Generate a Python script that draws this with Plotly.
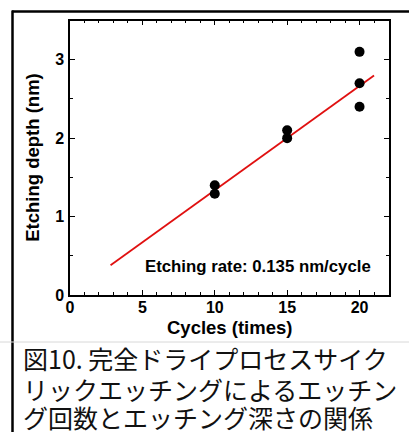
import plotly.graph_objects as go

# Data
cycles = [10, 10, 15, 15, 20, 20, 20]
depth = [1.40, 1.29, 2.10, 2.00, 3.10, 2.70, 2.40]
fit_x = [2.8, 21.0]
fit_y = [0.38, 2.80]
x_ticks = [0, 5, 10, 15, 20]
y_ticks = [0, 1, 2, 3]
rate_label = "Etching rate: 0.135 nm/cycle"
x_title = "Cycles (times)"
y_title = "Etching depth (nm)"
caption_lines = ["図10. 完全ドライプロセスサイク",
                 "リックエッチングによるエッチン",
                 "グ回数とエッチング深さの関係"]

W, H = 409, 432
font_fam = "Liberation Sans, Arial, sans-serif"

fig = go.Figure()
fig.add_trace(go.Scatter(x=fit_x, y=fit_y, mode="lines",
                         line=dict(color="#e01010", width=1.8),
                         showlegend=False, hoverinfo="skip"))
fig.add_trace(go.Scatter(x=cycles, y=depth, mode="markers",
                         marker=dict(color="black", size=10),
                         showlegend=False))

x0, x1 = 70, 388.5
y0, y1 = 20.5, 295

axis_common = dict(
    showgrid=False, zeroline=False, showline=True, linecolor="black",
    linewidth=1.5, mirror="allticks", ticks="inside", ticklen=5,
    tickwidth=1.3, tickcolor="black", automargin=False,
    tickfont=dict(family=font_fam, size=16, color="black", weight="bold"),
)

title_font = dict(family=font_fam, size=18.5, color="black", weight="bold")
caption_y = [358, 388.5, 416.5]
annotations = [
    dict(x=20.95, y=0.36, xref="x", yref="y", text=rate_label,
         showarrow=False, xanchor="right", yanchor="middle",
         font=dict(family=font_fam, size=16.8, color="black", weight="bold")),
    dict(x=(x0 + x1) / 2 / W, y=1 - 327 / H, xref="paper", yref="paper",
         text=x_title, showarrow=False, xanchor="center", yanchor="middle",
         font=title_font),
    dict(x=33 / W, y=1 - (y0 + y1) / 2 / H, xref="paper", yref="paper",
         text=y_title, showarrow=False, xanchor="center", yanchor="middle",
         textangle=-90, font=title_font),
]
for line, yc in zip(caption_lines, caption_y):
    annotations.append(
        dict(x=22 / W, y=1 - yc / H, xref="paper", yref="paper",
             text=line, showarrow=False, xanchor="left", yanchor="middle",
             align="left", borderpad=0,
             font=dict(family="Noto Sans CJK JP", size=25, color="#111111")))

fig.update_layout(
    width=W, height=H, margin=dict(l=0, r=0, t=0, b=0),
    paper_bgcolor="white", plot_bgcolor="white",
    xaxis=dict(axis_common, range=[0, 22], tickvals=x_ticks,
               domain=[x0 / W, x1 / W], ticklabelstandoff=-3,
               minor=dict(dtick=1, tick0=0, ticks="inside", ticklen=3,
                          tickwidth=1.2, tickcolor="black")),
    yaxis=dict(axis_common, range=[0, 3.5], tickvals=y_ticks,
               domain=[1 - y1 / H, 1 - y0 / H], ticklabelstandoff=1,
               minor=dict(dtick=0.5, tick0=0, ticks="inside", ticklen=3,
                          tickwidth=1.2, tickcolor="black")),
    shapes=[
        dict(type="line", xref="paper", yref="paper",
             x0=12 / W, x1=1, y0=1 - 11.5 / H, y1=1 - 11.5 / H,
             line=dict(color="black", width=2.5)),
        dict(type="line", xref="paper", yref="paper",
             x0=12.5 / W, x1=12.5 / W, y0=0, y1=1 - 10.5 / H,
             line=dict(color="black", width=2.5)),
        dict(type="line", xref="paper", yref="paper",
             x0=0, x1=1, y0=1 - 342 / H, y1=1 - 342 / H,
             line=dict(color="#d8d8d8", width=1)),
    ],
    annotations=annotations,
)

fig.write_html("out.html")
